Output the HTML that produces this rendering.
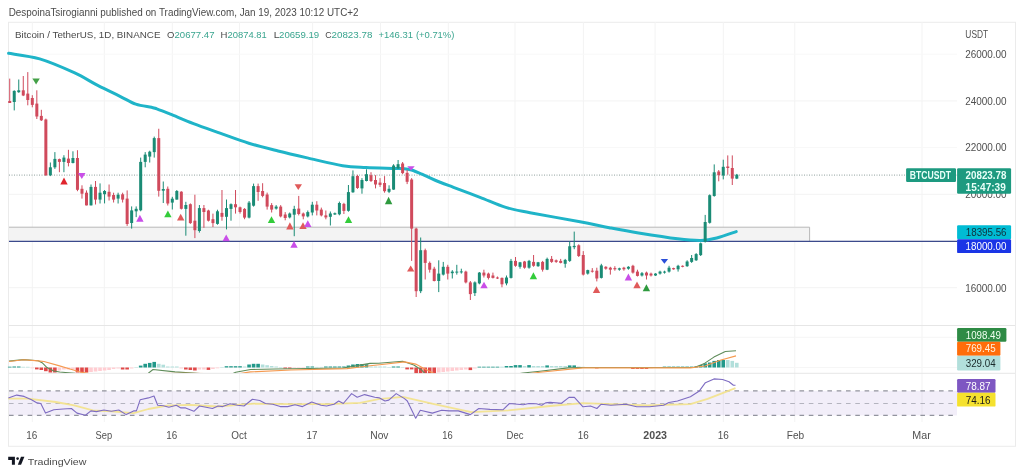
<!DOCTYPE html>
<html><head><meta charset="utf-8">
<style>
html,body{margin:0;padding:0;background:#fff;}
body{width:1024px;height:476px;overflow:hidden;}
svg{display:block;font-family:"Liberation Sans", sans-serif;filter:blur(0.35px);}
</style></head>
<body>
<svg width="1024" height="476" viewBox="0 0 1024 476">
<defs><clipPath id="macdclip"><rect x="9" y="326" width="948" height="47"/></clipPath></defs>
<rect x="8.5" y="22.3" width="1007" height="424" fill="#fff" stroke="#ebebeb" stroke-width="1"/>
<line x1="32.3" y1="22" x2="32.3" y2="422" stroke="#f3f3f3" stroke-width="1"/>
<line x1="104.3" y1="22" x2="104.3" y2="422" stroke="#f3f3f3" stroke-width="1"/>
<line x1="172.3" y1="22" x2="172.3" y2="422" stroke="#f3f3f3" stroke-width="1"/>
<line x1="239.5" y1="22" x2="239.5" y2="422" stroke="#f3f3f3" stroke-width="1"/>
<line x1="312.6" y1="22" x2="312.6" y2="422" stroke="#f3f3f3" stroke-width="1"/>
<line x1="380.5" y1="22" x2="380.5" y2="422" stroke="#f3f3f3" stroke-width="1"/>
<line x1="448.3" y1="22" x2="448.3" y2="422" stroke="#f3f3f3" stroke-width="1"/>
<line x1="515" y1="22" x2="515" y2="422" stroke="#f3f3f3" stroke-width="1"/>
<line x1="583.4" y1="22" x2="583.4" y2="422" stroke="#f3f3f3" stroke-width="1"/>
<line x1="655.1" y1="22" x2="655.1" y2="422" stroke="#f3f3f3" stroke-width="1"/>
<line x1="723.3" y1="22" x2="723.3" y2="422" stroke="#f3f3f3" stroke-width="1"/>
<line x1="794.8" y1="22" x2="794.8" y2="422" stroke="#f3f3f3" stroke-width="1"/>
<line x1="922" y1="22" x2="922" y2="422" stroke="#f3f3f3" stroke-width="1"/>
<line x1="9" y1="54.2" x2="957" y2="54.2" stroke="#f8f8f8" stroke-width="1"/>
<line x1="9" y1="100.9" x2="957" y2="100.9" stroke="#f3f3f3" stroke-width="1"/>
<line x1="9" y1="147.6" x2="957" y2="147.6" stroke="#f8f8f8" stroke-width="1"/>
<line x1="9" y1="194.3" x2="957" y2="194.3" stroke="#f3f3f3" stroke-width="1"/>
<line x1="9" y1="241" x2="957" y2="241" stroke="#f3f3f3" stroke-width="1"/>
<line x1="9" y1="287.7" x2="957" y2="287.7" stroke="#f3f3f3" stroke-width="1"/>
<line x1="9" y1="337.3" x2="957" y2="337.3" stroke="#f6f6f6" stroke-width="1"/>
<line x1="9" y1="367.6" x2="957" y2="367.6" stroke="#f6f6f6" stroke-width="1"/>
<line x1="9" y1="325.5" x2="1015" y2="325.5" stroke="#e6e6e6" stroke-width="1"/>
<line x1="9" y1="373.3" x2="1015" y2="373.3" stroke="#e6e6e6" stroke-width="1"/>
<rect x="9" y="227.2" width="800.6" height="13.9" fill="#f3f3f3"/>
<path d="M9 227.2 H809.6 V241.1" fill="none" stroke="#b8b8b8" stroke-width="1"/>
<line x1="9" y1="241.4" x2="957" y2="241.4" stroke="#3b4a8c" stroke-width="1.3"/>
<line x1="9" y1="175.1" x2="957" y2="175.1" stroke="#7d918b" stroke-width="1" stroke-dasharray="1 1.5" opacity="0.85"/>
<path d="M8.6,53.3 C13.78,54.23 28.77,55.67 39.7,58.9 C50.63,62.13 64.53,68.28 74.2,72.7 C83.87,77.12 90.07,81.47 97.7,85.4 C105.33,89.33 113.65,93.17 120,96.3 C126.35,99.43 130.55,102.37 135.8,104.2 C141.05,106.03 148,106.52 151.5,107.3 C155,108.08 153.65,107.75 156.8,108.9 C159.95,110.05 164.28,111.75 170.4,114.2 C176.52,116.65 185.23,120.45 193.5,123.6 C201.77,126.75 210.78,129.83 220,133.1 C229.22,136.37 239.12,140.22 248.8,143.2 C258.48,146.18 268.33,148.55 278.1,151 C287.87,153.45 296.65,155.45 307.4,157.9 C318.15,160.35 332.83,164.08 342.6,165.7 C352.37,167.32 357.67,167.15 366,167.6 C374.33,168.05 386.23,168.22 392.6,168.4 C398.97,168.58 401.05,168.43 404.2,168.7 C407.35,168.97 408.53,169.08 411.5,170 C414.47,170.92 418.15,172.53 422,174.2 C425.85,175.87 429.35,177.82 434.6,180 C439.85,182.18 445.93,184.42 453.5,187.3 C461.07,190.18 471.28,193.95 480,197.3 C488.72,200.65 497.47,204.83 505.8,207.4 C514.13,209.97 517.63,210.3 530,212.7 C542.37,215.1 566.78,219.3 580,221.8 C593.22,224.3 599.53,225.83 609.3,227.7 C619.07,229.57 627.2,231.15 638.6,233 C650,234.85 667.3,237.57 677.7,238.8 C688.1,240.03 694.5,240.53 701,240.4 C707.5,240.27 710.83,239.47 716.7,238 C722.58,236.53 732.99,232.67 736.25,231.6" fill="none" stroke="#1fb4c8" stroke-width="3" stroke-linejoin="round" stroke-linecap="round"/>
<rect x="9.22" y="78.6" width="1" height="24.4" fill="#d04a5c"/>
<rect x="8.22" y="101" width="3" height="2" fill="#d04a5c"/>
<rect x="13.74" y="90.3" width="1" height="20.1" fill="#1a8b75"/>
<rect x="12.74" y="90.9" width="3" height="11.1" fill="#1a8b75"/>
<rect x="18.25" y="79.5" width="1" height="13.3" fill="#1a8b75"/>
<rect x="17.25" y="90.3" width="3" height="1.9" fill="#1a8b75"/>
<rect x="22.77" y="76" width="1" height="20.1" fill="#d04a5c"/>
<rect x="21.77" y="90.3" width="3" height="5.2" fill="#d04a5c"/>
<rect x="27.28" y="72.1" width="1" height="33.2" fill="#d04a5c"/>
<rect x="26.28" y="93.6" width="3" height="6.4" fill="#d04a5c"/>
<rect x="31.8" y="95.2" width="1" height="12.1" fill="#d04a5c"/>
<rect x="30.8" y="98" width="3" height="6.9" fill="#d04a5c"/>
<rect x="36.32" y="90.3" width="1" height="28.7" fill="#d04a5c"/>
<rect x="35.32" y="103.6" width="3" height="12.9" fill="#d04a5c"/>
<rect x="40.83" y="109.8" width="1" height="11.2" fill="#d04a5c"/>
<rect x="39.83" y="115.9" width="3" height="4.4" fill="#d04a5c"/>
<rect x="45.35" y="118.6" width="1" height="57.4" fill="#d04a5c"/>
<rect x="44.35" y="119.5" width="3" height="55.7" fill="#d04a5c"/>
<rect x="49.86" y="162.5" width="1" height="13.6" fill="#1a8b75"/>
<rect x="48.86" y="167.3" width="3" height="7.9" fill="#1a8b75"/>
<rect x="54.38" y="152.1" width="1" height="16.8" fill="#1a8b75"/>
<rect x="53.38" y="158.9" width="3" height="8.4" fill="#1a8b75"/>
<rect x="58.9" y="158.6" width="1" height="13.6" fill="#d04a5c"/>
<rect x="57.9" y="159.1" width="3" height="2.8" fill="#d04a5c"/>
<rect x="63.41" y="155.2" width="1" height="17" fill="#1a8b75"/>
<rect x="62.41" y="157.6" width="3" height="4.3" fill="#1a8b75"/>
<rect x="67.93" y="149.8" width="1" height="16.6" fill="#d04a5c"/>
<rect x="66.93" y="158.6" width="3" height="4.4" fill="#d04a5c"/>
<rect x="72.44" y="151.3" width="1" height="12.1" fill="#1a8b75"/>
<rect x="71.44" y="158" width="3" height="5" fill="#1a8b75"/>
<rect x="76.96" y="150.2" width="1" height="41" fill="#d04a5c"/>
<rect x="75.96" y="158" width="3" height="31.8" fill="#d04a5c"/>
<rect x="81.48" y="185.3" width="1" height="13.3" fill="#d04a5c"/>
<rect x="80.48" y="188.8" width="3" height="4.9" fill="#d04a5c"/>
<rect x="85.99" y="190.4" width="1" height="15" fill="#d04a5c"/>
<rect x="84.99" y="192.7" width="3" height="12.7" fill="#d04a5c"/>
<rect x="90.51" y="184.5" width="1" height="20.9" fill="#1a8b75"/>
<rect x="89.51" y="186.9" width="3" height="18.5" fill="#1a8b75"/>
<rect x="95.02" y="181" width="1" height="23.5" fill="#d04a5c"/>
<rect x="94.02" y="186.9" width="3" height="12.7" fill="#d04a5c"/>
<rect x="99.54" y="183.4" width="1" height="20.1" fill="#1a8b75"/>
<rect x="98.54" y="192.7" width="3" height="6.9" fill="#1a8b75"/>
<rect x="104.06" y="190" width="1" height="13.4" fill="#1a8b75"/>
<rect x="103.06" y="191" width="3" height="3.2" fill="#1a8b75"/>
<rect x="108.57" y="184.5" width="1" height="16" fill="#d04a5c"/>
<rect x="107.57" y="191.8" width="3" height="4.8" fill="#d04a5c"/>
<rect x="113.09" y="192.7" width="1" height="9.8" fill="#d04a5c"/>
<rect x="112.09" y="195" width="3" height="4.6" fill="#d04a5c"/>
<rect x="117.6" y="192.7" width="1" height="10.8" fill="#1a8b75"/>
<rect x="116.6" y="194.7" width="3" height="3.9" fill="#1a8b75"/>
<rect x="122.12" y="192.7" width="1" height="9.8" fill="#d04a5c"/>
<rect x="121.12" y="194.3" width="3" height="5.3" fill="#d04a5c"/>
<rect x="126.64" y="190.4" width="1" height="35.5" fill="#d04a5c"/>
<rect x="125.64" y="198.6" width="3" height="25.4" fill="#d04a5c"/>
<rect x="131.15" y="206.4" width="1" height="22.2" fill="#1a8b75"/>
<rect x="130.15" y="210.4" width="3" height="12.6" fill="#1a8b75"/>
<rect x="135.67" y="206.4" width="1" height="10.7" fill="#1a8b75"/>
<rect x="134.67" y="208.8" width="3" height="2.5" fill="#1a8b75"/>
<rect x="140.18" y="157.6" width="1" height="53.7" fill="#1a8b75"/>
<rect x="139.18" y="161.9" width="3" height="48.4" fill="#1a8b75"/>
<rect x="144.7" y="152.1" width="1" height="15.2" fill="#1a8b75"/>
<rect x="143.7" y="154.6" width="3" height="7.3" fill="#1a8b75"/>
<rect x="149.22" y="150.7" width="1" height="11.8" fill="#1a8b75"/>
<rect x="148.22" y="151.7" width="3" height="4.9" fill="#1a8b75"/>
<rect x="153.73" y="136.6" width="1" height="21" fill="#1a8b75"/>
<rect x="152.73" y="138.1" width="3" height="14" fill="#1a8b75"/>
<rect x="158.25" y="128.75" width="1" height="67.85" fill="#d04a5c"/>
<rect x="157.25" y="138.1" width="3" height="52.7" fill="#d04a5c"/>
<rect x="162.76" y="181.5" width="1" height="21.5" fill="#1a8b75"/>
<rect x="161.76" y="189" width="3" height="1.7" fill="#1a8b75"/>
<rect x="167.28" y="186.5" width="1" height="19" fill="#d04a5c"/>
<rect x="166.28" y="188.8" width="3" height="14.7" fill="#d04a5c"/>
<rect x="171.8" y="196.8" width="1" height="12.7" fill="#1a8b75"/>
<rect x="170.8" y="198.7" width="3" height="3.9" fill="#1a8b75"/>
<rect x="176.31" y="190" width="1" height="9.6" fill="#1a8b75"/>
<rect x="175.31" y="191" width="3" height="8.6" fill="#1a8b75"/>
<rect x="180.83" y="191.2" width="1" height="18.3" fill="#d04a5c"/>
<rect x="179.83" y="191.7" width="3" height="17.1" fill="#d04a5c"/>
<rect x="185.34" y="201.8" width="1" height="33.9" fill="#1a8b75"/>
<rect x="184.34" y="205" width="3" height="3.9" fill="#1a8b75"/>
<rect x="189.86" y="203.4" width="1" height="20.5" fill="#d04a5c"/>
<rect x="188.86" y="204.2" width="3" height="18.9" fill="#d04a5c"/>
<rect x="194.38" y="194.7" width="1" height="43.4" fill="#d04a5c"/>
<rect x="193.38" y="220.7" width="3" height="9.5" fill="#d04a5c"/>
<rect x="198.89" y="205" width="1" height="27.6" fill="#1a8b75"/>
<rect x="197.89" y="208.1" width="3" height="22.9" fill="#1a8b75"/>
<rect x="203.41" y="205" width="1" height="22.8" fill="#d04a5c"/>
<rect x="202.41" y="208.1" width="3" height="3.9" fill="#d04a5c"/>
<rect x="207.92" y="209.7" width="1" height="11.8" fill="#d04a5c"/>
<rect x="206.92" y="210.5" width="3" height="10.2" fill="#d04a5c"/>
<rect x="212.44" y="213.6" width="1" height="13.4" fill="#d04a5c"/>
<rect x="211.44" y="219.2" width="3" height="3.9" fill="#d04a5c"/>
<rect x="216.96" y="209.7" width="1" height="15" fill="#1a8b75"/>
<rect x="215.96" y="211.3" width="3" height="12.6" fill="#1a8b75"/>
<rect x="221.47" y="190" width="1" height="30.7" fill="#d04a5c"/>
<rect x="220.47" y="212.9" width="3" height="3.9" fill="#d04a5c"/>
<rect x="225.99" y="199.5" width="1" height="29.9" fill="#1a8b75"/>
<rect x="224.99" y="208.1" width="3" height="8.7" fill="#1a8b75"/>
<rect x="230.5" y="203.4" width="1" height="17.3" fill="#1a8b75"/>
<rect x="229.5" y="204.2" width="3" height="4.7" fill="#1a8b75"/>
<rect x="235.02" y="190" width="1" height="23.6" fill="#d04a5c"/>
<rect x="234.02" y="204.2" width="3" height="3.1" fill="#d04a5c"/>
<rect x="239.54" y="206.6" width="1" height="7" fill="#d04a5c"/>
<rect x="238.54" y="207.3" width="3" height="4.7" fill="#d04a5c"/>
<rect x="244.05" y="208.1" width="1" height="11.1" fill="#d04a5c"/>
<rect x="243.05" y="208.9" width="3" height="8.7" fill="#d04a5c"/>
<rect x="248.57" y="201" width="1" height="17.4" fill="#1a8b75"/>
<rect x="247.57" y="202.6" width="3" height="15" fill="#1a8b75"/>
<rect x="253.08" y="183.6" width="1" height="23" fill="#1a8b75"/>
<rect x="252.08" y="186.1" width="3" height="19.6" fill="#1a8b75"/>
<rect x="257.6" y="183.6" width="1" height="17.2" fill="#d04a5c"/>
<rect x="256.6" y="186.1" width="3" height="5.9" fill="#d04a5c"/>
<rect x="262.12" y="183.2" width="1" height="14.1" fill="#d04a5c"/>
<rect x="261.12" y="191" width="3" height="4.9" fill="#d04a5c"/>
<rect x="266.63" y="192.6" width="1" height="17" fill="#d04a5c"/>
<rect x="265.63" y="194.5" width="3" height="12.1" fill="#d04a5c"/>
<rect x="271.15" y="203.1" width="1" height="9.4" fill="#d04a5c"/>
<rect x="270.15" y="205.1" width="3" height="4.5" fill="#d04a5c"/>
<rect x="275.66" y="205.1" width="1" height="4.5" fill="#1a8b75"/>
<rect x="274.66" y="206.6" width="3" height="2" fill="#1a8b75"/>
<rect x="280.18" y="205.1" width="1" height="12.3" fill="#d04a5c"/>
<rect x="279.18" y="206.6" width="3" height="9.8" fill="#d04a5c"/>
<rect x="284.7" y="212.1" width="1" height="8.2" fill="#d04a5c"/>
<rect x="283.7" y="214.5" width="3" height="3.5" fill="#d04a5c"/>
<rect x="289.21" y="212.5" width="1" height="5.9" fill="#1a8b75"/>
<rect x="288.21" y="213.5" width="3" height="3.9" fill="#1a8b75"/>
<rect x="293.73" y="205.8" width="1" height="30.4" fill="#1a8b75"/>
<rect x="292.73" y="208.9" width="3" height="5.8" fill="#1a8b75"/>
<rect x="298.24" y="195.9" width="1" height="19.5" fill="#d04a5c"/>
<rect x="297.24" y="208.6" width="3" height="5.4" fill="#d04a5c"/>
<rect x="302.76" y="212.5" width="1" height="6.8" fill="#d04a5c"/>
<rect x="301.76" y="213.5" width="3" height="2.9" fill="#d04a5c"/>
<rect x="307.28" y="210.5" width="1" height="6.9" fill="#1a8b75"/>
<rect x="306.28" y="212.1" width="3" height="4.3" fill="#1a8b75"/>
<rect x="311.79" y="201.8" width="1" height="13.6" fill="#1a8b75"/>
<rect x="310.79" y="204.7" width="3" height="7.8" fill="#1a8b75"/>
<rect x="316.31" y="201.2" width="1" height="14.2" fill="#d04a5c"/>
<rect x="315.31" y="204.7" width="3" height="5.8" fill="#d04a5c"/>
<rect x="320.82" y="207.6" width="1" height="8.8" fill="#d04a5c"/>
<rect x="319.82" y="209.6" width="3" height="5.8" fill="#d04a5c"/>
<rect x="325.34" y="210.5" width="1" height="8.8" fill="#d04a5c"/>
<rect x="324.34" y="215.4" width="3" height="2" fill="#d04a5c"/>
<rect x="329.86" y="211.5" width="1" height="14" fill="#1a8b75"/>
<rect x="328.86" y="213.5" width="3" height="3.3" fill="#1a8b75"/>
<rect x="334.37" y="212.5" width="1" height="2.5" fill="#1a8b75"/>
<rect x="333.37" y="213.2" width="3" height="1.3" fill="#1a8b75"/>
<rect x="338.89" y="201.6" width="1" height="13.7" fill="#1a8b75"/>
<rect x="337.89" y="203" width="3" height="11.3" fill="#1a8b75"/>
<rect x="343.4" y="202.8" width="1" height="11.2" fill="#d04a5c"/>
<rect x="342.4" y="203.9" width="3" height="7" fill="#d04a5c"/>
<rect x="347.92" y="185" width="1" height="26.7" fill="#1a8b75"/>
<rect x="346.92" y="192.1" width="3" height="18.7" fill="#1a8b75"/>
<rect x="352.44" y="170.4" width="1" height="22.4" fill="#1a8b75"/>
<rect x="351.44" y="176.2" width="3" height="16.1" fill="#1a8b75"/>
<rect x="356.95" y="174.8" width="1" height="14.1" fill="#d04a5c"/>
<rect x="355.95" y="176" width="3" height="12" fill="#d04a5c"/>
<rect x="361.47" y="178.1" width="1" height="15.6" fill="#1a8b75"/>
<rect x="360.47" y="180" width="3" height="8.4" fill="#1a8b75"/>
<rect x="365.98" y="169.3" width="1" height="12.1" fill="#1a8b75"/>
<rect x="364.98" y="174.2" width="3" height="6.8" fill="#1a8b75"/>
<rect x="370.5" y="172.2" width="1" height="9.8" fill="#d04a5c"/>
<rect x="369.5" y="175.2" width="3" height="5.8" fill="#d04a5c"/>
<rect x="375.02" y="175.2" width="1" height="13.2" fill="#d04a5c"/>
<rect x="374.02" y="180" width="3" height="4.5" fill="#d04a5c"/>
<rect x="379.53" y="178.1" width="1" height="8.8" fill="#d04a5c"/>
<rect x="378.53" y="182.6" width="3" height="2.3" fill="#d04a5c"/>
<rect x="384.05" y="176.1" width="1" height="16.6" fill="#d04a5c"/>
<rect x="383.05" y="183" width="3" height="8.2" fill="#d04a5c"/>
<rect x="388.56" y="185.3" width="1" height="7.8" fill="#1a8b75"/>
<rect x="387.56" y="188.8" width="3" height="3" fill="#1a8b75"/>
<rect x="393.08" y="164.2" width="1" height="25.6" fill="#1a8b75"/>
<rect x="392.08" y="165.5" width="3" height="24.1" fill="#1a8b75"/>
<rect x="397.6" y="160" width="1" height="8.9" fill="#1a8b75"/>
<rect x="396.6" y="164.2" width="3" height="4.2" fill="#1a8b75"/>
<rect x="402.11" y="162" width="1" height="12.2" fill="#d04a5c"/>
<rect x="401.11" y="163.5" width="3" height="9.6" fill="#d04a5c"/>
<rect x="406.63" y="170" width="1" height="14.1" fill="#d04a5c"/>
<rect x="405.63" y="172.8" width="3" height="9" fill="#d04a5c"/>
<rect x="411.14" y="178.1" width="1" height="82.8" fill="#d04a5c"/>
<rect x="410.14" y="179.5" width="3" height="49.1" fill="#d04a5c"/>
<rect x="415.66" y="227.7" width="1" height="69.3" fill="#d04a5c"/>
<rect x="414.66" y="228.6" width="3" height="62.6" fill="#d04a5c"/>
<rect x="420.18" y="237.5" width="1" height="55.6" fill="#1a8b75"/>
<rect x="419.18" y="250.2" width="3" height="41" fill="#1a8b75"/>
<rect x="424.69" y="248.6" width="1" height="30.9" fill="#d04a5c"/>
<rect x="423.69" y="250.2" width="3" height="12.7" fill="#d04a5c"/>
<rect x="429.21" y="261.5" width="1" height="11.1" fill="#d04a5c"/>
<rect x="428.21" y="262.9" width="3" height="6.8" fill="#d04a5c"/>
<rect x="433.72" y="266.8" width="1" height="14.6" fill="#d04a5c"/>
<rect x="432.72" y="268.7" width="3" height="12.3" fill="#d04a5c"/>
<rect x="438.24" y="260.3" width="1" height="31.8" fill="#1a8b75"/>
<rect x="437.24" y="273.6" width="3" height="7.4" fill="#1a8b75"/>
<rect x="442.76" y="261.9" width="1" height="13.6" fill="#1a8b75"/>
<rect x="441.76" y="266.8" width="3" height="7.8" fill="#1a8b75"/>
<rect x="447.27" y="264.8" width="1" height="14.7" fill="#d04a5c"/>
<rect x="446.27" y="266.8" width="3" height="6.8" fill="#d04a5c"/>
<rect x="451.79" y="270.1" width="1" height="8.4" fill="#1a8b75"/>
<rect x="450.79" y="271.6" width="3" height="1.6" fill="#1a8b75"/>
<rect x="456.3" y="264.8" width="1" height="9.8" fill="#1a8b75"/>
<rect x="455.3" y="271.6" width="3" height="1" fill="#1a8b75"/>
<rect x="460.82" y="268.7" width="1" height="4.9" fill="#1a8b75"/>
<rect x="459.82" y="271.4" width="3" height="1" fill="#1a8b75"/>
<rect x="465.34" y="270.7" width="1" height="12.7" fill="#d04a5c"/>
<rect x="464.34" y="271.6" width="3" height="10.8" fill="#d04a5c"/>
<rect x="469.85" y="281" width="1" height="19" fill="#d04a5c"/>
<rect x="468.85" y="282.4" width="3" height="11.7" fill="#d04a5c"/>
<rect x="474.37" y="281.4" width="1" height="14.6" fill="#1a8b75"/>
<rect x="473.37" y="282.4" width="3" height="10.7" fill="#1a8b75"/>
<rect x="478.88" y="272" width="1" height="12.3" fill="#1a8b75"/>
<rect x="477.88" y="272.6" width="3" height="10.8" fill="#1a8b75"/>
<rect x="483.4" y="269.7" width="1" height="7.8" fill="#d04a5c"/>
<rect x="482.4" y="272.6" width="3" height="2.9" fill="#d04a5c"/>
<rect x="487.92" y="272.6" width="1" height="6.9" fill="#d04a5c"/>
<rect x="486.92" y="273.6" width="3" height="4.3" fill="#d04a5c"/>
<rect x="492.43" y="272.6" width="1" height="5.9" fill="#d04a5c"/>
<rect x="491.43" y="275.5" width="3" height="2.4" fill="#d04a5c"/>
<rect x="496.95" y="276.5" width="1" height="2.5" fill="#d04a5c"/>
<rect x="495.95" y="277.5" width="3" height="1" fill="#d04a5c"/>
<rect x="501.46" y="277.5" width="1" height="9.8" fill="#d04a5c"/>
<rect x="500.46" y="277.9" width="3" height="6.4" fill="#d04a5c"/>
<rect x="505.98" y="275.5" width="1" height="9.8" fill="#1a8b75"/>
<rect x="504.98" y="277.5" width="3" height="5.9" fill="#1a8b75"/>
<rect x="510.5" y="258.9" width="1" height="19.6" fill="#1a8b75"/>
<rect x="509.5" y="260.9" width="3" height="17" fill="#1a8b75"/>
<rect x="515.01" y="257" width="1" height="9.8" fill="#d04a5c"/>
<rect x="514.01" y="260.9" width="3" height="4.9" fill="#d04a5c"/>
<rect x="519.53" y="261.9" width="1" height="6.8" fill="#1a8b75"/>
<rect x="518.53" y="262.3" width="3" height="4.5" fill="#1a8b75"/>
<rect x="524.04" y="260.9" width="1" height="7.8" fill="#d04a5c"/>
<rect x="523.04" y="261.5" width="3" height="6.2" fill="#d04a5c"/>
<rect x="528.56" y="259.9" width="1" height="8.8" fill="#1a8b75"/>
<rect x="527.56" y="260.9" width="3" height="6.8" fill="#1a8b75"/>
<rect x="533.08" y="255" width="1" height="11.8" fill="#d04a5c"/>
<rect x="532.08" y="261.9" width="3" height="3.9" fill="#d04a5c"/>
<rect x="537.59" y="261.9" width="1" height="4.9" fill="#1a8b75"/>
<rect x="536.59" y="262.3" width="3" height="3.9" fill="#1a8b75"/>
<rect x="542.11" y="260.9" width="1" height="10.7" fill="#d04a5c"/>
<rect x="541.11" y="261.9" width="3" height="7.8" fill="#d04a5c"/>
<rect x="546.62" y="257.6" width="1" height="12.5" fill="#1a8b75"/>
<rect x="545.62" y="258.9" width="3" height="10.8" fill="#1a8b75"/>
<rect x="551.14" y="256" width="1" height="6.9" fill="#d04a5c"/>
<rect x="550.14" y="258.9" width="3" height="3" fill="#d04a5c"/>
<rect x="555.66" y="259.5" width="1" height="3.4" fill="#d04a5c"/>
<rect x="554.66" y="260.3" width="3" height="1.6" fill="#d04a5c"/>
<rect x="560.17" y="258.9" width="1" height="4.5" fill="#d04a5c"/>
<rect x="559.17" y="260.9" width="3" height="2" fill="#d04a5c"/>
<rect x="564.69" y="258.9" width="1" height="8.8" fill="#1a8b75"/>
<rect x="563.69" y="259.9" width="3" height="3.9" fill="#1a8b75"/>
<rect x="569.2" y="241.4" width="1" height="20.5" fill="#1a8b75"/>
<rect x="568.2" y="246.25" width="3" height="14.65" fill="#1a8b75"/>
<rect x="573.72" y="231.6" width="1" height="17.6" fill="#1a8b75"/>
<rect x="572.72" y="245.9" width="3" height="1.3" fill="#1a8b75"/>
<rect x="578.24" y="244.3" width="1" height="12.7" fill="#d04a5c"/>
<rect x="577.24" y="245.3" width="3" height="10.7" fill="#d04a5c"/>
<rect x="582.75" y="251.1" width="1" height="24.4" fill="#d04a5c"/>
<rect x="581.75" y="255" width="3" height="19.6" fill="#d04a5c"/>
<rect x="587.27" y="269.7" width="1" height="4.9" fill="#1a8b75"/>
<rect x="586.27" y="270.1" width="3" height="3.5" fill="#1a8b75"/>
<rect x="591.78" y="268.1" width="1" height="4.5" fill="#d04a5c"/>
<rect x="590.78" y="270.7" width="3" height="1" fill="#d04a5c"/>
<rect x="596.3" y="267.7" width="1" height="13.7" fill="#d04a5c"/>
<rect x="595.3" y="270.7" width="3" height="7.8" fill="#d04a5c"/>
<rect x="600.82" y="263.8" width="1" height="14.7" fill="#1a8b75"/>
<rect x="599.82" y="265.4" width="3" height="12.5" fill="#1a8b75"/>
<rect x="605.33" y="266.2" width="1" height="3.5" fill="#d04a5c"/>
<rect x="604.33" y="266.8" width="3" height="1.9" fill="#d04a5c"/>
<rect x="609.85" y="266.8" width="1" height="7.8" fill="#d04a5c"/>
<rect x="608.85" y="267.7" width="3" height="2" fill="#d04a5c"/>
<rect x="614.36" y="266.2" width="1" height="4.5" fill="#d04a5c"/>
<rect x="613.36" y="268.1" width="3" height="1.2" fill="#d04a5c"/>
<rect x="618.88" y="267.7" width="1" height="3" fill="#1a8b75"/>
<rect x="617.88" y="268.3" width="3" height="1.4" fill="#1a8b75"/>
<rect x="623.4" y="266.8" width="1" height="3.9" fill="#d04a5c"/>
<rect x="622.4" y="267.7" width="3" height="1.6" fill="#d04a5c"/>
<rect x="627.91" y="266.2" width="1" height="3.5" fill="#1a8b75"/>
<rect x="626.91" y="266.8" width="3" height="1.9" fill="#1a8b75"/>
<rect x="632.43" y="264.8" width="1" height="8.8" fill="#d04a5c"/>
<rect x="631.43" y="265.8" width="3" height="6.8" fill="#d04a5c"/>
<rect x="636.94" y="269.7" width="1" height="6.8" fill="#d04a5c"/>
<rect x="635.94" y="271.6" width="3" height="4.3" fill="#d04a5c"/>
<rect x="641.46" y="272" width="1" height="4.5" fill="#1a8b75"/>
<rect x="640.46" y="273.2" width="3" height="2.3" fill="#1a8b75"/>
<rect x="645.98" y="271.6" width="1" height="7.9" fill="#d04a5c"/>
<rect x="644.98" y="272.6" width="3" height="2.9" fill="#d04a5c"/>
<rect x="650.49" y="272.6" width="1" height="3.9" fill="#d04a5c"/>
<rect x="649.49" y="273.6" width="3" height="1.9" fill="#d04a5c"/>
<rect x="655.01" y="273.2" width="1" height="2.7" fill="#1a8b75"/>
<rect x="654.01" y="273.6" width="3" height="1.9" fill="#1a8b75"/>
<rect x="659.52" y="270.7" width="1" height="3.9" fill="#1a8b75"/>
<rect x="658.52" y="271.6" width="3" height="2" fill="#1a8b75"/>
<rect x="664.04" y="270.7" width="1" height="2.9" fill="#1a8b75"/>
<rect x="663.04" y="271.6" width="3" height="1" fill="#1a8b75"/>
<rect x="668.56" y="265.8" width="1" height="6.8" fill="#1a8b75"/>
<rect x="667.56" y="267.7" width="3" height="3.9" fill="#1a8b75"/>
<rect x="673.07" y="267.7" width="1" height="2" fill="#d04a5c"/>
<rect x="672.07" y="268.1" width="3" height="1.2" fill="#d04a5c"/>
<rect x="677.59" y="264.8" width="1" height="6.8" fill="#1a8b75"/>
<rect x="676.59" y="265.8" width="3" height="3.5" fill="#1a8b75"/>
<rect x="682.1" y="265.4" width="1" height="1.9" fill="#d04a5c"/>
<rect x="681.1" y="265.8" width="3" height="1" fill="#d04a5c"/>
<rect x="686.62" y="260.3" width="1" height="6.5" fill="#1a8b75"/>
<rect x="685.62" y="261.5" width="3" height="4.7" fill="#1a8b75"/>
<rect x="691.14" y="255" width="1" height="7.9" fill="#1a8b75"/>
<rect x="690.14" y="258" width="3" height="3.9" fill="#1a8b75"/>
<rect x="695.65" y="253.1" width="1" height="7.8" fill="#1a8b75"/>
<rect x="694.65" y="254.1" width="3" height="6.2" fill="#1a8b75"/>
<rect x="700.17" y="242.5" width="1" height="13.5" fill="#1a8b75"/>
<rect x="699.17" y="243.3" width="3" height="11.8" fill="#1a8b75"/>
<rect x="704.68" y="214.9" width="1" height="27.6" fill="#1a8b75"/>
<rect x="703.68" y="222" width="3" height="19.7" fill="#1a8b75"/>
<rect x="709.2" y="194.4" width="1" height="29.2" fill="#1a8b75"/>
<rect x="708.2" y="195.2" width="3" height="27.6" fill="#1a8b75"/>
<rect x="713.72" y="164.4" width="1" height="32.3" fill="#1a8b75"/>
<rect x="712.72" y="172.3" width="3" height="23.7" fill="#1a8b75"/>
<rect x="718.23" y="170" width="1" height="11.3" fill="#d04a5c"/>
<rect x="717.23" y="171.5" width="3" height="3.5" fill="#d04a5c"/>
<rect x="722.75" y="159.7" width="1" height="19.7" fill="#1a8b75"/>
<rect x="721.75" y="166.8" width="3" height="8.7" fill="#1a8b75"/>
<rect x="727.26" y="155.4" width="1" height="19.3" fill="#d04a5c"/>
<rect x="726.26" y="166.5" width="3" height="1.5" fill="#d04a5c"/>
<rect x="731.78" y="155.4" width="1" height="29.6" fill="#d04a5c"/>
<rect x="730.78" y="168" width="3" height="10.6" fill="#d04a5c"/>
<rect x="736.3" y="173.9" width="1" height="5.2" fill="#1a8b75"/>
<rect x="735.3" y="174.7" width="3" height="3.9" fill="#1a8b75"/>
<polygon points="32.4,78.5 39.8,78.5 36.1,84.4" fill="#43a047"/>
<polygon points="64,177.5 67.7,184.6 60.3,184.6" fill="#e0252d"/>
<polygon points="78.1,173 85.5,173 81.8,178.9" fill="#c94ee8"/>
<polygon points="139.9,214.8 143.6,221.7 136.2,221.7" fill="#c94ee8"/>
<polygon points="167.9,210.4 171.6,217.2 164.2,217.2" fill="#33cc3a"/>
<polygon points="180.7,213.7 184.4,220.6 177,220.6" fill="#e05a5a"/>
<polygon points="226.2,234.5 229.9,241.3 222.5,241.3" fill="#c94ee8"/>
<polygon points="271.5,216.3 275.2,223.1 267.8,223.1" fill="#33cc3a"/>
<polygon points="294.6,184.2 302,184.2 298.3,190" fill="#e05a5a"/>
<polygon points="289.9,222.2 293.6,229.4 286.2,229.4" fill="#e05a5a"/>
<polygon points="303,222.2 306.7,228.9 299.3,228.9" fill="#e05a5a"/>
<polygon points="307.8,220.2 311.5,226.9 304.1,226.9" fill="#c94ee8"/>
<polygon points="294,241 297.7,247.8 290.3,247.8" fill="#c94ee8"/>
<polygon points="348.5,216.3 352.2,223.1 344.8,223.1" fill="#33cc3a"/>
<polygon points="388.6,196.8 392.3,204.3 384.9,204.3" fill="#2e9a3e"/>
<polygon points="407.3,166.3 414.7,166.3 411,170.5" fill="#c94ee8"/>
<polygon points="410.7,265.4 414.4,271.6 407,271.6" fill="#e05a5a"/>
<polygon points="484,281.8 487.7,288.2 480.3,288.2" fill="#c94ee8"/>
<polygon points="533.4,272.2 537.1,279.3 529.7,279.3" fill="#33cc3a"/>
<polygon points="596.5,286.3 600.2,293.1 592.8,293.1" fill="#e05a5a"/>
<polygon points="628.4,273.6 632.1,280.4 624.7,280.4" fill="#c94ee8"/>
<polygon points="637,281.4 640.7,288.2 633.3,288.2" fill="#e05a5a"/>
<polygon points="646.4,284.3 650.1,291.2 642.7,291.2" fill="#2e9a3e"/>
<polygon points="660.7,259 668.1,259 664.4,263.8" fill="#2b4fd8"/>
<rect x="7.92" y="366.7" width="3.6" height="0.8" fill="#22998a"/>
<rect x="12.44" y="366.5" width="3.6" height="1" fill="#22998a"/>
<rect x="16.95" y="366.5" width="3.6" height="1" fill="#22998a"/>
<rect x="21.47" y="366.8" width="3.6" height="0.7" fill="#b2dfdb"/>
<rect x="25.98" y="366.8" width="3.6" height="0.7" fill="#b2dfdb"/>
<rect x="30.5" y="367.5" width="3.6" height="0.8" fill="#ffcdd2"/>
<rect x="35.02" y="367.5" width="3.6" height="1.9" fill="#e04848"/>
<rect x="39.53" y="367.5" width="3.6" height="2.5" fill="#e04848"/>
<rect x="44.05" y="367.5" width="3.6" height="3.7" fill="#e04848"/>
<rect x="48.56" y="367.5" width="3.6" height="5" fill="#e04848"/>
<rect x="53.08" y="367.5" width="3.6" height="5" fill="#e04848"/>
<rect x="57.6" y="367.5" width="3.6" height="3" fill="#ffcdd2"/>
<rect x="62.11" y="367.5" width="3.6" height="2" fill="#ffcdd2"/>
<rect x="66.63" y="367.5" width="3.6" height="2" fill="#ffcdd2"/>
<rect x="71.14" y="367.5" width="3.6" height="2" fill="#ffcdd2"/>
<rect x="75.66" y="367.5" width="3.6" height="5" fill="#e04848"/>
<rect x="80.18" y="367.5" width="3.6" height="5" fill="#e04848"/>
<rect x="84.69" y="367.5" width="3.6" height="5" fill="#e04848"/>
<rect x="89.21" y="367.5" width="3.6" height="4.5" fill="#ffcdd2"/>
<rect x="93.72" y="367.5" width="3.6" height="4" fill="#ffcdd2"/>
<rect x="98.24" y="367.5" width="3.6" height="3.5" fill="#ffcdd2"/>
<rect x="102.76" y="367.5" width="3.6" height="3" fill="#ffcdd2"/>
<rect x="107.27" y="367.5" width="3.6" height="2.5" fill="#ffcdd2"/>
<rect x="111.79" y="367.5" width="3.6" height="1.5" fill="#ffcdd2"/>
<rect x="116.3" y="367.5" width="3.6" height="1" fill="#ffcdd2"/>
<rect x="120.82" y="367.5" width="3.6" height="2" fill="#e04848"/>
<rect x="125.34" y="367.5" width="3.6" height="2" fill="#e04848"/>
<rect x="129.85" y="367.5" width="3.6" height="1" fill="#ffcdd2"/>
<rect x="134.37" y="367" width="3.6" height="0.5" fill="#b2dfdb"/>
<rect x="138.88" y="365.6" width="3.6" height="1.9" fill="#22998a"/>
<rect x="143.4" y="363.8" width="3.6" height="3.7" fill="#22998a"/>
<rect x="147.92" y="362.9" width="3.6" height="4.6" fill="#22998a"/>
<rect x="152.43" y="361.9" width="3.6" height="5.6" fill="#22998a"/>
<rect x="156.95" y="363.8" width="3.6" height="3.7" fill="#b2dfdb"/>
<rect x="161.46" y="364.7" width="3.6" height="2.8" fill="#b2dfdb"/>
<rect x="165.98" y="366.5" width="3.6" height="1" fill="#b2dfdb"/>
<rect x="170.5" y="366.5" width="3.6" height="1" fill="#b2dfdb"/>
<rect x="175.01" y="366.5" width="3.6" height="1" fill="#b2dfdb"/>
<rect x="179.53" y="367.5" width="3.6" height="1" fill="#ffcdd2"/>
<rect x="184.04" y="367.5" width="3.6" height="2" fill="#e04848"/>
<rect x="188.56" y="367.5" width="3.6" height="2.5" fill="#e04848"/>
<rect x="193.08" y="367.5" width="3.6" height="3" fill="#e04848"/>
<rect x="197.59" y="367.5" width="3.6" height="2" fill="#ffcdd2"/>
<rect x="202.11" y="367.5" width="3.6" height="2" fill="#ffcdd2"/>
<rect x="206.62" y="367.5" width="3.6" height="2.4" fill="#e04848"/>
<rect x="211.14" y="367.5" width="3.6" height="1.5" fill="#ffcdd2"/>
<rect x="215.66" y="367.5" width="3.6" height="0.8" fill="#ffcdd2"/>
<rect x="220.17" y="367" width="3.6" height="0.5" fill="#b2dfdb"/>
<rect x="224.69" y="366.2" width="3.6" height="1.3" fill="#22998a"/>
<rect x="229.2" y="366.2" width="3.6" height="1.3" fill="#22998a"/>
<rect x="233.72" y="366.2" width="3.6" height="1.3" fill="#22998a"/>
<rect x="238.24" y="366.2" width="3.6" height="1.3" fill="#22998a"/>
<rect x="242.75" y="366.5" width="3.6" height="1" fill="#b2dfdb"/>
<rect x="247.27" y="364.5" width="3.6" height="3" fill="#22998a"/>
<rect x="251.78" y="363.8" width="3.6" height="3.7" fill="#22998a"/>
<rect x="256.3" y="363.8" width="3.6" height="3.7" fill="#22998a"/>
<rect x="260.82" y="364.5" width="3.6" height="3" fill="#b2dfdb"/>
<rect x="265.33" y="365.2" width="3.6" height="2.3" fill="#b2dfdb"/>
<rect x="269.85" y="366" width="3.6" height="1.5" fill="#b2dfdb"/>
<rect x="274.36" y="366.5" width="3.6" height="1" fill="#b2dfdb"/>
<rect x="278.88" y="367" width="3.6" height="0.5" fill="#b2dfdb"/>
<rect x="283.4" y="367.5" width="3.6" height="1" fill="#e04848"/>
<rect x="287.91" y="367.5" width="3.6" height="1" fill="#e04848"/>
<rect x="292.43" y="367.5" width="3.6" height="0.5" fill="#ffcdd2"/>
<rect x="296.94" y="367.5" width="3.6" height="0.5" fill="#ffcdd2"/>
<rect x="301.46" y="367.5" width="3.6" height="1.3" fill="#ffcdd2"/>
<rect x="305.98" y="366.5" width="3.6" height="1" fill="#22998a"/>
<rect x="310.49" y="366.5" width="3.6" height="1" fill="#22998a"/>
<rect x="315.01" y="366.9" width="3.6" height="0.6" fill="#b2dfdb"/>
<rect x="319.52" y="366.9" width="3.6" height="0.6" fill="#b2dfdb"/>
<rect x="324.04" y="366.5" width="3.6" height="1" fill="#22998a"/>
<rect x="328.56" y="366.5" width="3.6" height="1" fill="#22998a"/>
<rect x="333.07" y="366.5" width="3.6" height="1" fill="#22998a"/>
<rect x="337.59" y="366.5" width="3.6" height="1" fill="#22998a"/>
<rect x="342.1" y="366.5" width="3.6" height="1" fill="#22998a"/>
<rect x="346.62" y="365.5" width="3.6" height="2" fill="#22998a"/>
<rect x="351.14" y="364.5" width="3.6" height="3" fill="#22998a"/>
<rect x="355.65" y="364" width="3.6" height="3.5" fill="#22998a"/>
<rect x="360.17" y="364" width="3.6" height="3.5" fill="#22998a"/>
<rect x="364.68" y="364.2" width="3.6" height="3.3" fill="#22998a"/>
<rect x="369.2" y="366.5" width="3.6" height="1" fill="#b2dfdb"/>
<rect x="373.72" y="366.5" width="3.6" height="1" fill="#b2dfdb"/>
<rect x="378.23" y="366.5" width="3.6" height="1" fill="#b2dfdb"/>
<rect x="382.75" y="366.5" width="3.6" height="1" fill="#b2dfdb"/>
<rect x="387.26" y="367" width="3.6" height="0.5" fill="#b2dfdb"/>
<rect x="391.78" y="366.5" width="3.6" height="1" fill="#22998a"/>
<rect x="396.3" y="366.5" width="3.6" height="1" fill="#22998a"/>
<rect x="400.81" y="367" width="3.6" height="0.5" fill="#b2dfdb"/>
<rect x="405.33" y="367.5" width="3.6" height="1.9" fill="#e04848"/>
<rect x="409.84" y="367.5" width="3.6" height="1.9" fill="#e04848"/>
<rect x="414.36" y="367.5" width="3.6" height="5.6" fill="#e04848"/>
<rect x="418.88" y="367.5" width="3.6" height="5.6" fill="#e04848"/>
<rect x="423.39" y="367.5" width="3.6" height="5.6" fill="#e04848"/>
<rect x="427.91" y="367.5" width="3.6" height="5.6" fill="#e04848"/>
<rect x="432.42" y="367.5" width="3.6" height="5.6" fill="#e04848"/>
<rect x="436.94" y="367.5" width="3.6" height="5" fill="#ffcdd2"/>
<rect x="441.46" y="367.5" width="3.6" height="4.5" fill="#ffcdd2"/>
<rect x="445.97" y="367.5" width="3.6" height="4" fill="#ffcdd2"/>
<rect x="450.49" y="367.5" width="3.6" height="3.5" fill="#ffcdd2"/>
<rect x="455" y="367.5" width="3.6" height="3" fill="#ffcdd2"/>
<rect x="459.52" y="367.5" width="3.6" height="2.5" fill="#ffcdd2"/>
<rect x="464.04" y="367.5" width="3.6" height="2" fill="#ffcdd2"/>
<rect x="468.55" y="367.5" width="3.6" height="2.6" fill="#e04848"/>
<rect x="473.07" y="367.5" width="3.6" height="1" fill="#ffcdd2"/>
<rect x="477.58" y="366.7" width="3.6" height="0.8" fill="#22998a"/>
<rect x="482.1" y="366.7" width="3.6" height="0.8" fill="#22998a"/>
<rect x="486.62" y="366.7" width="3.6" height="0.8" fill="#22998a"/>
<rect x="491.13" y="366.7" width="3.6" height="0.8" fill="#22998a"/>
<rect x="495.65" y="366.7" width="3.6" height="0.8" fill="#22998a"/>
<rect x="500.16" y="366.7" width="3.6" height="0.8" fill="#b2dfdb"/>
<rect x="504.68" y="366" width="3.6" height="1.5" fill="#22998a"/>
<rect x="509.2" y="366" width="3.6" height="1.5" fill="#22998a"/>
<rect x="513.71" y="365.1" width="3.6" height="2.4" fill="#22998a"/>
<rect x="518.23" y="365.1" width="3.6" height="2.4" fill="#22998a"/>
<rect x="522.74" y="366" width="3.6" height="1.5" fill="#b2dfdb"/>
<rect x="527.26" y="365.1" width="3.6" height="2.4" fill="#22998a"/>
<rect x="531.78" y="366" width="3.6" height="1.5" fill="#b2dfdb"/>
<rect x="536.29" y="366" width="3.6" height="1.5" fill="#b2dfdb"/>
<rect x="540.81" y="366" width="3.6" height="1.5" fill="#b2dfdb"/>
<rect x="545.32" y="365.4" width="3.6" height="2.1" fill="#22998a"/>
<rect x="549.84" y="366" width="3.6" height="1.5" fill="#b2dfdb"/>
<rect x="554.36" y="366" width="3.6" height="1.5" fill="#b2dfdb"/>
<rect x="558.87" y="366" width="3.6" height="1.5" fill="#b2dfdb"/>
<rect x="563.39" y="366" width="3.6" height="1.5" fill="#b2dfdb"/>
<rect x="567.9" y="365.4" width="3.6" height="2.1" fill="#22998a"/>
<rect x="572.42" y="365.4" width="3.6" height="2.1" fill="#22998a"/>
<rect x="576.94" y="366.5" width="3.6" height="1" fill="#b2dfdb"/>
<rect x="581.45" y="366.8" width="3.6" height="0.7" fill="#b2dfdb"/>
<rect x="585.97" y="367.5" width="3.6" height="0.5" fill="#ffcdd2"/>
<rect x="590.48" y="367.5" width="3.6" height="0.5" fill="#ffcdd2"/>
<rect x="595" y="367.5" width="3.6" height="0.9" fill="#e04848"/>
<rect x="599.52" y="367.5" width="3.6" height="0.5" fill="#ffcdd2"/>
<rect x="604.03" y="367.5" width="3.6" height="0.5" fill="#ffcdd2"/>
<rect x="608.55" y="367.5" width="3.6" height="0.5" fill="#ffcdd2"/>
<rect x="613.06" y="367.5" width="3.6" height="0.5" fill="#ffcdd2"/>
<rect x="617.58" y="367.5" width="3.6" height="0.5" fill="#ffcdd2"/>
<rect x="622.1" y="367.5" width="3.6" height="0.5" fill="#ffcdd2"/>
<rect x="626.61" y="367.5" width="3.6" height="0.5" fill="#ffcdd2"/>
<rect x="631.13" y="367.5" width="3.6" height="1.5" fill="#e04848"/>
<rect x="635.64" y="367.5" width="3.6" height="1.5" fill="#e04848"/>
<rect x="640.16" y="367.5" width="3.6" height="1.5" fill="#e04848"/>
<rect x="644.68" y="367.5" width="3.6" height="1.5" fill="#e04848"/>
<rect x="649.19" y="367.5" width="3.6" height="0.8" fill="#ffcdd2"/>
<rect x="653.71" y="367.5" width="3.6" height="0.5" fill="#ffcdd2"/>
<rect x="658.22" y="367" width="3.6" height="0.5" fill="#b2dfdb"/>
<rect x="662.74" y="366.6" width="3.6" height="0.9" fill="#22998a"/>
<rect x="667.26" y="366.6" width="3.6" height="0.9" fill="#22998a"/>
<rect x="671.77" y="366.6" width="3.6" height="0.9" fill="#22998a"/>
<rect x="676.29" y="366.6" width="3.6" height="0.9" fill="#22998a"/>
<rect x="680.8" y="366.6" width="3.6" height="0.9" fill="#22998a"/>
<rect x="685.32" y="366.6" width="3.6" height="0.9" fill="#22998a"/>
<rect x="689.84" y="366.6" width="3.6" height="0.9" fill="#22998a"/>
<rect x="694.35" y="366.3" width="3.6" height="1.2" fill="#22998a"/>
<rect x="698.87" y="365" width="3.6" height="2.5" fill="#22998a"/>
<rect x="703.38" y="363.4" width="3.6" height="4.1" fill="#22998a"/>
<rect x="707.9" y="362.5" width="3.6" height="5" fill="#22998a"/>
<rect x="712.42" y="360.9" width="3.6" height="6.6" fill="#22998a"/>
<rect x="716.93" y="360" width="3.6" height="7.5" fill="#22998a"/>
<rect x="721.45" y="360" width="3.6" height="7.5" fill="#22998a"/>
<rect x="725.96" y="360" width="3.6" height="7.5" fill="#b2dfdb"/>
<rect x="730.48" y="360.9" width="3.6" height="6.6" fill="#b2dfdb"/>
<rect x="735" y="362.8" width="3.6" height="4.7" fill="#b2dfdb"/>
<g clip-path="url(#macdclip)">
<polyline points="8.4,361.2 23.6,359.6 38.2,360.7 42.1,362.7 47,367.6 53.8,371 59.7,372 65.5,372.5 75,373.4" fill="none" stroke="#5f8c5a" stroke-width="1.1" stroke-linejoin="round" opacity="1"/>
<polyline points="148,373.5 153,369.5 175,371.9 200,373.5" fill="none" stroke="#5f8c5a" stroke-width="1.1" stroke-linejoin="round" opacity="1"/>
<polyline points="233,373.5 235.7,372.3 250.5,369.5 275,369 343,368 370,363.4 378.6,363.2 402.7,361.3 413.8,365 421.2,369.7 425,373.5" fill="none" stroke="#5f8c5a" stroke-width="1.1" stroke-linejoin="round" opacity="1"/>
<polyline points="520,373.5 523,373 540,371.2 568,367.9 583,367.5 690.4,367.5 695,367.2 704.5,363.4 713.9,357.1 725.3,351.5 736,350.8" fill="none" stroke="#5f8c5a" stroke-width="1.1" stroke-linejoin="round" opacity="1"/>
<polyline points="8.4,361.5 23.6,359.8 38.2,360.9 44,361.5 58.7,365.6 73.4,370 80,372 88,373.4" fill="none" stroke="#f59a50" stroke-width="1.1" stroke-linejoin="round" opacity="1"/>
<polyline points="160,373.5 185.6,373.2 205,373.5" fill="none" stroke="#f59a50" stroke-width="1.1" stroke-linejoin="round" opacity="1"/>
<polyline points="240,373.5 250.5,371.9 291,370 347,368.6 370,365.8 382,364.5 404.5,361.9 415.7,364.1 421.2,366.9 434,373.5" fill="none" stroke="#f59a50" stroke-width="1.1" stroke-linejoin="round" opacity="1"/>
<polyline points="530,373.5 540,372.2 583,367.9 690.4,367.9 705,366 720.2,360.3 736,355.9" fill="none" stroke="#f59a50" stroke-width="1.1" stroke-linejoin="round" opacity="1"/>
</g>
<rect x="9" y="390.9" width="948" height="24.5" fill="#7e57c2" opacity="0.1"/>
<line x1="9" y1="390.9" x2="957" y2="390.9" stroke="#787b86" stroke-width="1" stroke-dasharray="4.6 4.7" stroke-dashoffset="0"/>
<line x1="9" y1="415.3" x2="957" y2="415.3" stroke="#787b86" stroke-width="1" stroke-dasharray="4.6 4.7" stroke-dashoffset="0"/>
<line x1="9" y1="403.5" x2="957" y2="403.5" stroke="#787b86" stroke-width="1" stroke-dasharray="4.6 4.7" opacity="0.5"/>
<polyline points="8.4,398.6 27.8,398.6 55.7,402 74.2,405.3 92.8,410.3 111.3,411.3 133.6,413.1 148.4,409 167,405.7 190,404.8 217,406.5 254,403.6 291,404.2 328,404.2 347,403.3 360,402.9 378.6,399.2 402.7,396.8 434.2,404.2 471.3,412.2 508.5,410.3 550,406 583,403.2 647.4,405.3 690.4,404.2 707.6,398.9 735.5,388.1" fill="none" stroke="#f3e28a" stroke-width="1.8" stroke-linejoin="round" opacity="0.9"/>
<polyline points="8.4,397.9 16.7,395.1 24.1,396.4 31.5,399.8 37.1,402.9 40.8,403.5 45.5,413.1 53.8,409.8 63.1,409 71.4,408.5 77,413.1 85.4,415.3 90.9,410.9 96.5,411.6 103.9,410 111.3,411.3 118.8,410 126.2,414.6 133.6,410.9 136.4,410.9 140.1,399.8 148.4,397.9 154,396 157.7,405.3 163.3,405.7 168.9,407.2 176.3,405.3 180.9,407.9 185.6,407.9 193.9,411.3 199.5,406 206,407.2 212.5,408.5 218,406 222.7,406.6 230.1,403.8 237.5,405.3 244,406 252.4,399.2 259.8,400.5 265.4,403.5 272.8,404.2 280.2,406.6 287.6,406.6 295,404.8 302.5,406.6 311.7,402 321,405.3 326.6,406 334,404.2 338.7,401 343.3,403.5 351.6,393.6 357.2,397.3 364.6,394.6 374.8,397.3 379.5,397.9 385,401 388.8,400.1 396.2,393.6 404.5,398.6 407.3,401 415.7,418.3 420.3,410.3 432.4,413.1 441.6,410.3 449,410.9 458.3,410.9 470.4,414.6 478.8,408.5 489.9,409.4 502.9,409.8 509.4,403.5 517.7,404.2 523.3,404.8 528.9,403.5 536.3,403.8 541.8,405.3 545.6,402.9 550,402.4 561.5,403.2 569,397.4 574.4,397.4 583,406.8 590.5,406 596.9,408.5 601.2,404.2 610.9,405.3 626,404.2 636.7,406.8 649.6,406.8 663.5,405.3 668.9,402.5 677.5,401 690.4,396.7 699,391.3 705.4,382.7 714,378.9 722.6,379.5 729,381.7 733.4,385.3 735.5,385.3" fill="none" stroke="#7e6cc2" stroke-width="1.1" stroke-linejoin="round" opacity="1"/>
<text x="965.35" y="37.6" font-size="10.2" fill="#505050" textLength="22.8" lengthAdjust="spacingAndGlyphs">USDT</text>
<text x="965.15" y="57.8" font-size="10.6" fill="#505050" textLength="41.5" lengthAdjust="spacingAndGlyphs">26000.00</text>
<text x="965.15" y="104.5" font-size="10.6" fill="#505050" textLength="41.5" lengthAdjust="spacingAndGlyphs">24000.00</text>
<text x="965.15" y="151.2" font-size="10.6" fill="#505050" textLength="41.5" lengthAdjust="spacingAndGlyphs">22000.00</text>
<text x="965.15" y="197.9" font-size="10.6" fill="#505050" textLength="41.5" lengthAdjust="spacingAndGlyphs">20000.00</text>
<text x="965.15" y="291.5" font-size="10.6" fill="#505050" textLength="41.5" lengthAdjust="spacingAndGlyphs">16000.00</text>
<rect x="906.1" y="168.2" width="49.9" height="13.8" rx="1.2" fill="#1d9a80"/>
<text x="909.85" y="178.75" font-size="10" fill="#e8fff8" font-weight="bold" textLength="41.2" lengthAdjust="spacingAndGlyphs">BTCUSDT</text>
<rect x="957.1" y="168.2" width="54" height="25.5" rx="1.2" fill="#1d9a80"/>
<text x="965.55" y="178.75" font-size="10" fill="#e8fff8" font-weight="bold" textLength="40.9" lengthAdjust="spacingAndGlyphs">20823.78</text>
<text x="965.55" y="190.7" font-size="10" fill="#e8fff8" font-weight="bold" textLength="40.2" lengthAdjust="spacingAndGlyphs">15:47:39</text>
<rect x="957.1" y="225.3" width="54" height="13.9" rx="1.2" fill="#00bcd4"/>
<text x="965.75" y="235.5" font-size="10.6" fill="#10303a" textLength="40.8" lengthAdjust="spacingAndGlyphs">18395.56</text>
<rect x="957.1" y="239.2" width="54" height="13.9" rx="1.2" fill="#1a35e6"/>
<text x="965.55" y="249.6" font-size="10.6" fill="#ffffff" textLength="40.9" lengthAdjust="spacingAndGlyphs">18000.00</text>
<rect x="957.1" y="328" width="49.3" height="13.7" rx="1.2" fill="#2e8b45"/>
<text x="965.75" y="338.75" font-size="10.6" fill="#f0fff0" textLength="35.2" lengthAdjust="spacingAndGlyphs">1098.49</text>
<rect x="957.1" y="341.7" width="43.3" height="14" rx="1.2" fill="#ff6d0a"/>
<text x="965.75" y="352.2" font-size="10.6" fill="#fff3e0" textLength="29.9" lengthAdjust="spacingAndGlyphs">769.45</text>
<rect x="957.1" y="355.7" width="43.3" height="14.7" rx="1.2" fill="#b2dfdb"/>
<text x="965.75" y="366.9" font-size="10.6" fill="#1a2a2a" textLength="29.9" lengthAdjust="spacingAndGlyphs">329.04</text>
<rect x="957.1" y="379.1" width="38.4" height="13.7" rx="1.2" fill="#7e57c2"/>
<text x="965.75" y="389.6" font-size="10.6" fill="#ffffff" textLength="24.9" lengthAdjust="spacingAndGlyphs">78.87</text>
<rect x="957.1" y="392.8" width="38.4" height="13.8" rx="1.2" fill="#f5e12e"/>
<text x="965.75" y="403.7" font-size="10.6" fill="#1a1a1a" textLength="24.9" lengthAdjust="spacingAndGlyphs">74.16</text>
<text x="26.15" y="438.5" font-size="10.8" fill="#505050" textLength="11.1" lengthAdjust="spacingAndGlyphs">16</text>
<text x="95.55" y="438.5" font-size="10.8" fill="#505050" textLength="16.6" lengthAdjust="spacingAndGlyphs">Sep</text>
<text x="166.35" y="438.5" font-size="10.8" fill="#505050" textLength="11" lengthAdjust="spacingAndGlyphs">16</text>
<text x="231.25" y="438.5" font-size="10.8" fill="#505050" textLength="15.4" lengthAdjust="spacingAndGlyphs">Oct</text>
<text x="306.55" y="438.5" font-size="10.8" fill="#505050" textLength="10.8" lengthAdjust="spacingAndGlyphs">17</text>
<text x="370.25" y="438.5" font-size="10.8" fill="#505050" textLength="18.2" lengthAdjust="spacingAndGlyphs">Nov</text>
<text x="442.25" y="438.5" font-size="10.8" fill="#505050" textLength="10.4" lengthAdjust="spacingAndGlyphs">16</text>
<text x="506.55" y="438.5" font-size="10.8" fill="#505050" textLength="16.9" lengthAdjust="spacingAndGlyphs">Dec</text>
<text x="577.85" y="438.5" font-size="10.8" fill="#505050" textLength="11" lengthAdjust="spacingAndGlyphs">16</text>
<text x="643.35" y="438.5" font-size="10.8" fill="#505050" font-weight="bold" textLength="23.7" lengthAdjust="spacingAndGlyphs">2023</text>
<text x="717.75" y="438.5" font-size="10.8" fill="#505050" textLength="11.1" lengthAdjust="spacingAndGlyphs">16</text>
<text x="786.75" y="438.5" font-size="10.8" fill="#505050" textLength="17.4" lengthAdjust="spacingAndGlyphs">Feb</text>
<text x="912.25" y="438.5" font-size="10.8" fill="#505050" textLength="18.5" lengthAdjust="spacingAndGlyphs">Mar</text>
<text x="8.65" y="15.9" font-size="10.1" fill="#4a4a4a" textLength="349.9" lengthAdjust="spacingAndGlyphs">DespoinaTsirogianni published on TradingView.com, Jan 19, 2023 10:12 UTC+2</text>
<text x="15.05" y="38.4" font-size="9.7" fill="#4a4a4a" textLength="145.4" lengthAdjust="spacingAndGlyphs">Bitcoin / TetherUS, 1D, BINANCE</text>
<text x="167.05" y="38.4" font-size="9.7" fill="#4a4a4a" textLength="7.4" lengthAdjust="spacingAndGlyphs">O</text>
<text x="174.55" y="38.4" font-size="9.7" fill="#3aa58f" textLength="39.9" lengthAdjust="spacingAndGlyphs">20677.47</text>
<text x="220.55" y="38.4" font-size="9.7" fill="#4a4a4a" textLength="6.9" lengthAdjust="spacingAndGlyphs">H</text>
<text x="227.55" y="38.4" font-size="9.7" fill="#3aa58f" textLength="39.3" lengthAdjust="spacingAndGlyphs">20874.81</text>
<text x="273.75" y="38.4" font-size="9.7" fill="#4a4a4a" textLength="5.7" lengthAdjust="spacingAndGlyphs">L</text>
<text x="279.05" y="38.4" font-size="9.7" fill="#3aa58f" textLength="40.15" lengthAdjust="spacingAndGlyphs">20659.19</text>
<text x="325.35" y="38.4" font-size="9.7" fill="#4a4a4a" textLength="6.35" lengthAdjust="spacingAndGlyphs">C</text>
<text x="331.55" y="38.4" font-size="9.7" fill="#3aa58f" textLength="40.8" lengthAdjust="spacingAndGlyphs">20823.78</text>
<text x="378.45" y="38.4" font-size="9.7" fill="#3aa58f" textLength="34.5" lengthAdjust="spacingAndGlyphs">+146.31</text>
<text x="415.95" y="38.4" font-size="9.7" fill="#3aa58f" textLength="38.4" lengthAdjust="spacingAndGlyphs">(+0.71%)</text>
<g fill="#131722"><path d="M8.2 456.7 H14.9 V464.8 H11.9 V459.9 H8.2 Z"/><circle cx="17.6" cy="458.6" r="1.3"/><path d="M21 456.8 H24.4 L21.1 464.7 H17.8 Z"/></g>
<text x="27.85" y="464.7" font-size="9.6" fill="#4a4a4a" textLength="58.6" lengthAdjust="spacingAndGlyphs">TradingView</text>
</svg>
</body></html>
